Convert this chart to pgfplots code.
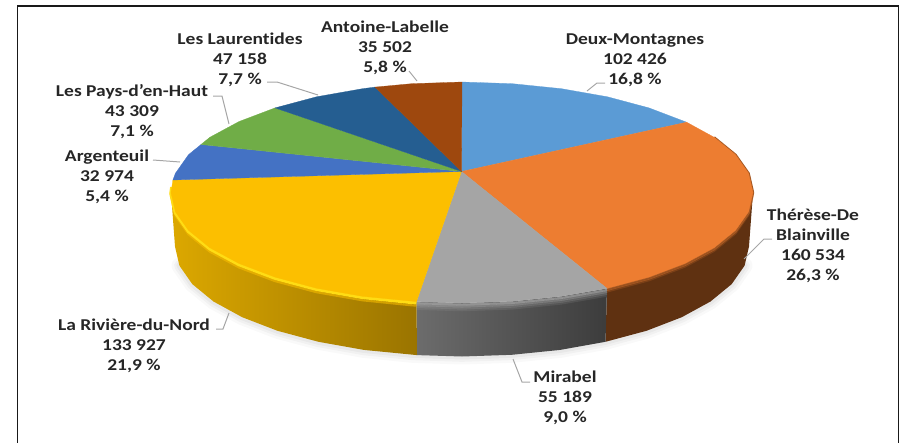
\documentclass[border=0pt]{standalone}
\usepackage{fontspec}
\setmainfont[Ligatures={ResetAll},RawFeature={-liga;-clig;-dlig},FakeStretch=1.18]{Carlito}
\usepackage{pgfplots}
\usepackage{pgfplotstable}
\pgfplotsset{compat=1.18}
\definecolor{cDeux}{HTML}{5B9BD5}
\definecolor{cTher}{HTML}{ED7D31}
\definecolor{cMira}{HTML}{A5A5A5}
\definecolor{cRivi}{HTML}{FCBF00}
\definecolor{cArge}{HTML}{4472C4}
\definecolor{cPays}{HTML}{70AD47}
\definecolor{cLaur}{HTML}{255E91}
\definecolor{cAnto}{HTML}{9E480E}
\definecolor{lead}{HTML}{A6A6A6}
\definecolor{txt}{HTML}{262626}
\definecolor{wOrange}{HTML}{5F3111}
\definecolor{wYellowA}{HTML}{DCA800}
\definecolor{wYellowB}{HTML}{CF9E00}
\definecolor{wYellowC}{HTML}{9A7400}
\definecolor{wGreyA}{HTML}{6C6C6C}
\definecolor{wGreyB}{HTML}{3C3C3C}
\definecolor{bright}{HTML}{FFDC14}
% outer edge of the lower half of the pie base
\pgfplotstableread{
x y
744.6 265.6
731.7 284.1
710.5 301.5
681.8 317.2
646.5 330.8
605.5 341.8
560.2 349.9
511.8 354.8
462 356.5
412.2 354.8
363.8 349.9
318.5 341.8
277.5 330.8
242.2 317.2
213.5 301.5
192.3 284.1
179.4 265.6
}\shadowarc
% rim arcs of the top face
\pgfplotstableread{
x y
714 137.2
735.5 154.7
748.6 173.3
753 192.5
748.6 211.7
735.5 230.3
714 247.8
684.9 263.5
649 277.1
607 288.4
}\rimOrange
\pgfplotstableread{
x y
607 288.4
561.5 296.3
512.5 301.3
462 303
416.5 301.6
}\rimGrey
\pgfplotstableread{
x y
416.5 301.6
411.5 301.3
362.5 296.3
316.5 288.2
275 277.1
239.1 263.5
210 247.8
188.5 230.3
175.4 211.7
171 192.5
171.8 186
}\rimYellow
\newcommand{\lab}[3]{\node[align=center,inner sep=0pt,text=txt,font=\fontsize{12.4}{15}\selectfont\bfseries] at (axis cs:#1,#2) {#3};}
\begin{document}
\begin{tikzpicture}
\path[use as bounding box] (0,0) rectangle (675.75pt,332.25pt);
\begin{axis}[
  at={(0,0)},anchor=south west,
  scale only axis,width=675.75pt,height=332.25pt,
  xmin=0,xmax=901,ymin=0,ymax=443,y dir=reverse,
  hide axis,no markers,
]
% frame
\addplot[draw=black!90,line width=1pt] coordinates {(17.5,443) (17.5,6) (898.5,6) (898.5,443)};
% shadow
\addplot[draw=black,opacity=.025,line width=12pt,line cap=round,line join=round] table {\shadowarc};
\addplot[draw=black,opacity=.03,line width=8pt,line cap=round,line join=round] table {\shadowarc};
\addplot[draw=black,opacity=.04,line width=4.5pt,line cap=round,line join=round] table {\shadowarc};
% walls
\addplot[draw=none,fill=wOrange] coordinates {(753,192.5) (748.6,211.7) (735.5,230.3) (714,247.8) (684.9,263.5) (649,277.1) (607,288.4) (605.5,341.8) (646.5,330.8) (681.8,317.2) (710.5,301.5) (731.7,284.1) (744.6,265.6) (749,246.5)} --cycle;
\addplot[draw=none,shade,left color=wGreyA,right color=wGreyB] coordinates {(607,288.4) (561.5,296.3) (512.5,301.3) (462,303) (416.5,301.6) (417,355.1) (462,356.5) (511.8,354.8) (560.2,349.9) (605.5,341.8)} --cycle;
\addplot[draw=none,shade,left color=wYellowA,middle color=wYellowB,right color=wYellowC] coordinates {(416.5,301.6) (362.5,296.3) (316.5,288.2) (275,277.1) (239.1,263.5) (210,247.8) (188.5,230.3) (175.4,211.7) (171,192.5) (175,246.5) (179.4,265.6) (192.3,284.1) (213.5,301.5) (242.2,317.2) (277.5,330.8) (318.5,341.8) (363.8,349.9) (417,355.1)} --cycle;
% bevels
\addplot[draw=cTher,opacity=.2,line width=1.5pt,yshift=-2.4pt] table {\rimOrange};
\addplot[draw=cTher,opacity=.4,line width=1.5pt,yshift=-1.2pt] table {\rimOrange};
\addplot[draw=cTher!70!black,line width=1.4pt,xshift=.2pt] table {\rimOrange};
\addplot[draw=cMira,opacity=.15,line width=1.6pt,yshift=-5.4pt] table {\rimGrey};
\addplot[draw=cMira,opacity=.3,line width=1.6pt,yshift=-4pt] table {\rimGrey};
\addplot[draw=cMira,opacity=.5,line width=1.6pt,yshift=-2.6pt] table {\rimGrey};
\addplot[draw=cMira,opacity=.75,line width=1.6pt,yshift=-1.2pt] table {\rimGrey};
\addplot[draw=cRivi,opacity=.55,line width=1.6pt,yshift=-3pt] table {\rimYellow};
\addplot[draw=bright,line width=2.6pt,yshift=-.8pt] table {\rimYellow};
% top face
\addplot[draw=cDeux,line width=.2pt,fill=cDeux] coordinates {(461.5,171.5) (462,82) (512.5,83.7) (561.5,88.7) (607.5,96.8) (649,107.9) (686.6,122.2)} --cycle;
\addplot[draw=cTher,line width=.2pt,fill=cTher] coordinates {(461.5,171.5) (686.6,122.2) (714,137.2) (735.5,154.7) (748.6,173.3) (753,192.5) (748.6,211.7) (735.5,230.3) (714,247.8) (684.9,263.5) (649,277.1) (607,288.4)} --cycle;
\addplot[draw=cMira,line width=.2pt,fill=cMira] coordinates {(461.5,171.5) (607,288.4) (561.5,296.3) (512.5,301.3) (462,303) (416.5,301.6)} --cycle;
\addplot[draw=cRivi,line width=.2pt,fill=cRivi] coordinates {(461.5,171.5) (416.5,301.6) (362.5,296.3) (316.5,288.2) (275,277.1) (239.1,263.5) (210,247.8) (188.5,230.3) (175.4,211.7) (171,192.5) (172.9,180)} --cycle;
\addplot[draw=cArge,line width=.2pt,fill=cArge] coordinates {(461.5,171.5) (172.9,180) (175.4,173.3) (188.5,154.7) (201,144.5)} --cycle;
\addplot[draw=cPays,line width=.2pt,fill=cPays] coordinates {(461.5,171.5) (201,144.5) (210,137.2) (239.1,121.5) (275,107.9)} --cycle;
\addplot[draw=cLaur,line width=.2pt,fill=cLaur] coordinates {(461.5,171.5) (275,107.9) (316.5,96.8) (362.5,88.7) (375,87.1)} --cycle;
\addplot[draw=cAnto,line width=.2pt,fill=cAnto] coordinates {(461.5,171.5) (375,87.1) (411.5,83.7) (462,82)} --cycle;
% leader lines
\addplot[draw=lead,line width=.75pt] coordinates {(587,91) (597,83) (605,83)};
\addplot[draw=lead,line width=.75pt] coordinates {(417,81) (409,71)};
\addplot[draw=lead,line width=.75pt] coordinates {(267,82) (277,82) (318,95)};
\addplot[draw=lead,line width=.75pt] coordinates {(213,96) (222,96) (229,124)};
\addplot[draw=lead,line width=.75pt] coordinates {(153,160) (180,162)};
\addplot[draw=lead,line width=.75pt] coordinates {(216,329) (223,329) (229,313)};
\addplot[draw=lead,line width=.75pt] coordinates {(513,359) (522,382) (530,382)};
\addplot[draw=lead,line width=.75pt] coordinates {(744,259) (764,239) (772,239)};
% labels
\lab{635}{60}{Deux-Montagnes\\102 426\\16,8 \%}
\lab{813}{246}{Thérèse-De\\Blainville\\160 534\\26,3 \%}
\lab{565}{398}{Mirabel\\55 189\\9,0 \%}
\lab{134}{346}{La Rivière-du-Nord\\133 927\\21,9 \%}
\lab{107}{177}{Argenteuil\\32 974\\5,4 \%}
\lab{132}{112}{Les Pays-d'en-Haut\\43 309\\7,1 \%}
\lab{240}{60}{Les Laurentides\\47 158\\7,7 \%}
\lab{385}{48}{Antoine-Labelle\\35 502\\5,8 \%}
\end{axis}
\end{tikzpicture}
\end{document}
